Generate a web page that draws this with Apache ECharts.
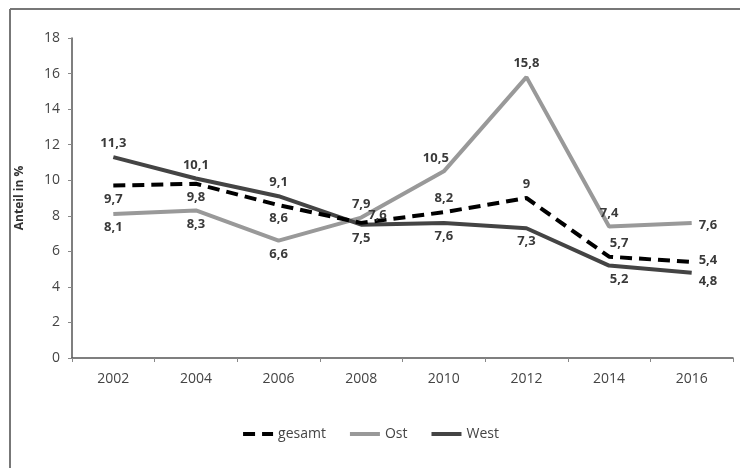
<!DOCTYPE html>
<html>
<head>
<meta charset="utf-8">
<script src="https://cdn.jsdelivr.net/npm/echarts@6/dist/echarts.min.js"></script>
<style>
  html, body { margin: 0; padding: 0; background: #fff; }
  #chart { width: 740px; height: 468px; }
</style>
</head>
<body>
<div id="chart"></div>
<script>
const years = ['2002', '2004', '2006', '2008', '2010', '2012', '2014', '2016']
const gesamt = [9.7, 9.8, 8.6, 7.6, 8.2, 9, 5.7, 5.4]
const ost = [8.1, 8.3, 6.6, 7.9, 10.5, 15.8, 7.4, 7.6]
const west = [11.3, 10.1, 9.1, 7.5, 7.6, 7.3, 5.2, 4.8]

// where each value label sits (per point)
const gesamtPos = ['bottom', 'bottom', 'bottom', 'right', 'top', 'top', 'top', 'right']
const ostPos = ['bottom', 'bottom', 'bottom', 'top', 'top', 'top', 'top', 'right']
const westPos = ['top', 'top', 'top', 'bottom', 'bottom', 'bottom', 'bottom', 'right']
const gesamtOff = [[0, 0], [0, 0], [0, 0], [0, -8], [0, 0], [0, 0], [10, 0], [0, -2]]
const ostOff = [[0, 0], [0, 0], [0, 0], [0, 0], [-8, 0], [0, 0], [0, 0], [0, 2]]
const westOff = [[0, 0], [0, 0], [0, 0], [0, 0], [0, 0], [0, 0], [10, 0], [0, 9]]

const fmt = v => String(v).replace('.', ',')

const labelFont = {
  show: true,
  fontFamily: 'Open Sans',
  fontWeight: 'bold',
  fontSize: 13,
  color: '#3a3a3a',
  distance: 6,
  formatter: p => fmt(p.value)
}

function pts(values, pos, off) {
  return values.map((v, i) => ({
    value: v,
    label: { position: pos[i], offset: off[i] }
  }))
}

function line(name, values, pos, off, color, extra) {
  return {
    name: name,
    type: 'line',
    data: pts(values, pos, off),
    symbol: 'circle',
    symbolSize: 2,
    showSymbol: true,
    lineStyle: Object.assign({ color: color, width: 4 }, extra),
    itemStyle: { color: 'rgba(0,0,0,0)', borderWidth: 0 },
    label: labelFont
  }
}

const chart = echarts.init(document.getElementById('chart'))
chart.setOption({
  animation: false,
  backgroundColor: '#fff',
  textStyle: { fontFamily: 'Open Sans' },
  grid: { left: 72, right: 7, top: 38, bottom: 110 },
  graphic: [
    { type: 'line', shape: { x1: 10, y1: 9, x2: 740, y2: 9 }, style: { stroke: '#777', lineWidth: 2 } },
    { type: 'line', shape: { x1: 10, y1: 9, x2: 10, y2: 468 }, style: { stroke: '#777', lineWidth: 2 } }
  ],
  legend: {
    bottom: 22,
    left: 'center',
    itemWidth: 30,
    itemHeight: 10,
    itemGap: 22,
    lineStyle: { width: 4 },
    textStyle: { fontSize: 14, color: '#444', fontFamily: 'Open Sans' },
    data: ['gesamt', 'Ost', 'West']
  },
  xAxis: {
    type: 'category',
    data: years,
    boundaryGap: true,
    axisLine: { lineStyle: { color: '#555', width: 1.5 } },
    axisTick: { show: true, length: 4, lineStyle: { color: '#888' } },
    axisLabel: { fontSize: 14, color: '#444', margin: 14 }
  },
  yAxis: {
    type: 'value',
    min: 0,
    max: 18,
    interval: 2,
    name: 'Anteil in %',
    nameLocation: 'middle',
    nameGap: 46,
    nameRotate: 90,
    nameTextStyle: { fontWeight: 'bold', fontSize: 12, color: '#333' },
    axisLine: { show: true, lineStyle: { color: '#555', width: 1.5 } },
    axisTick: { show: true, length: 4, lineStyle: { color: '#888' } },
    axisLabel: { fontSize: 14, color: '#444', margin: 12 },
    splitLine: { show: false }
  },
  series: [
    Object.assign(line('Ost', ost, ostPos, ostOff, '#999'), { z: 2 }),
    Object.assign(line('West', west, westPos, westOff, '#444'), { z: 3 }),
    Object.assign(line('gesamt', gesamt, gesamtPos, gesamtOff, '#000', { type: [12, 7] }), { z: 4 })
  ]
})
</script>
</body>
</html>
